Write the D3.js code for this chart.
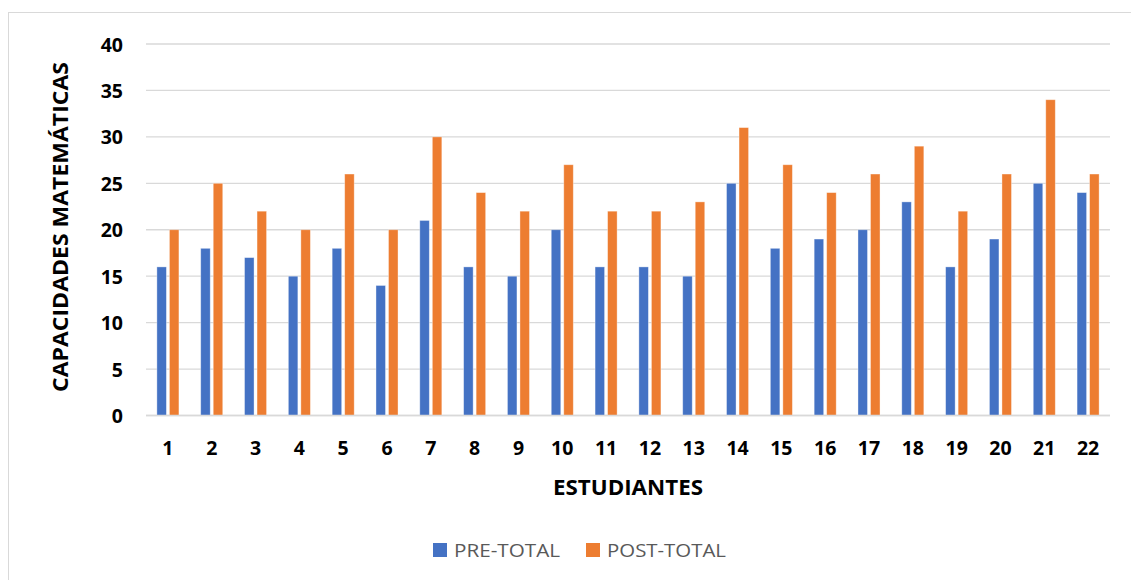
<!DOCTYPE html>
<html>
<head>
<meta charset="utf-8">
<script src="https://cdn.jsdelivr.net/npm/d3@7"></script>
<style>
  html, body { margin: 0; padding: 0; background: #fff; }
  svg { display: block; }
</style>
</head>
<body>
<svg id="chart" width="1131" height="580"></svg>
<script>
// Student identifiers and the two score series
const students = ["1","2","3","4","5","6","7","8","9","10","11","12","13","14","15","16","17","18","19","20","21","22"];
const preTotal  = [16,18,17,15,18,14,21,16,15,20,16,16,15,25,18,19,20,23,16,19,25,24];
const postTotal = [20,25,22,20,26,20,30,24,22,27,22,22,23,31,27,24,26,29,22,26,34,26];
const seriesNames = ["PRE-TOTAL", "POST-TOTAL"];
const seriesColors = ["#4472C4", "#ED7D31"];
const yTicks = [0,5,10,15,20,25,30,35,40];

const svg = d3.select("#chart");
const W = 1131, H = 580;
const font = "'Open Sans', 'Noto Sans', 'DejaVu Sans', sans-serif";

// Outer frame
svg.append("rect")
  .attr("x", 8.5).attr("y", 12.5)
  .attr("width", W + 10).attr("height", H + 10)
  .attr("fill", "#fff").attr("stroke", "#d9d9d9").attr("stroke-width", 1);

const plot = { left: 146, right: 1110, top: 44, bottom: 415.5 };

const x = d3.scaleBand().domain(students).range([plot.left, plot.right]).paddingInner(0).paddingOuter(0);
const xInner = d3.scaleBand().domain(seriesNames).range([0, x.bandwidth()]).paddingInner(0.24).paddingOuter(0.87);
const y = d3.scaleLinear().domain([0, 40]).range([plot.bottom, plot.top]);

// Horizontal gridlines
svg.append("g")
  .selectAll("line")
  .data(yTicks)
  .join("line")
  .attr("x1", plot.left).attr("x2", plot.right)
  .attr("y1", d => y(d)).attr("y2", d => y(d))
  .attr("stroke", "#d9d9d9").attr("stroke-width", 1.3);

// Y axis tick labels
const yAxis = d3.axisLeft(y).tickValues(yTicks).tickSize(0).tickPadding(0);
const gy = svg.append("g").attr("transform", `translate(123,0)`).call(yAxis);
gy.select(".domain").remove();
gy.selectAll("text")
  .attr("font-family", font).attr("font-size", 19.5).attr("font-weight", "bold")
  .attr("fill", "#000").attr("dy", "0.36em");

// Bars
const rows = students.map((s, i) => ({ s, vals: [preTotal[i], postTotal[i]] }));
const groups = svg.append("g").selectAll("g")
  .data(rows)
  .join("g")
  .attr("transform", d => `translate(${x(d.s)},0)`);

groups.selectAll("rect")
  .data(d => d.vals.map((v, k) => ({ name: seriesNames[k], v, k })))
  .join("rect")
  .attr("x", d => xInner(d.name))
  .attr("width", xInner.bandwidth())
  .attr("y", d => y(d.v))
  .attr("height", d => y(0) - y(d.v))
  .attr("fill", d => seriesColors[d.k])
  .attr("stroke", "rgba(255,255,255,0.45)")
  .attr("stroke-width", 0.8);

// Baseline
svg.append("line")
  .attr("x1", plot.left).attr("x2", plot.right)
  .attr("y1", y(0)).attr("y2", y(0))
  .attr("stroke", "#d9d9d9").attr("stroke-width", 1.3);

// X axis tick labels
const xAxis = d3.axisBottom(x).tickSize(0).tickPadding(0);
const gx = svg.append("g").attr("transform", `translate(0,455)`).call(xAxis);
gx.select(".domain").remove();
gx.selectAll("text")
  .attr("font-family", font).attr("font-size", 19.5).attr("font-weight", "bold")
  .attr("fill", "#000").attr("dy", "0");

// Axis titles
svg.append("text")
  .attr("x", 628).attr("y", 495)
  .attr("text-anchor", "middle")
  .attr("font-family", font).attr("font-size", 21).attr("font-weight", "bold")
  .attr("fill", "#000")
  .attr("textLength", 150).attr("lengthAdjust", "spacingAndGlyphs")
  .text("ESTUDIANTES");

svg.append("text")
  .attr("transform", `translate(68,227) rotate(-90)`)
  .attr("text-anchor", "middle")
  .attr("font-family", font).attr("font-size", 21).attr("font-weight", "bold")
  .attr("fill", "#000")
  .attr("textLength", 330).attr("lengthAdjust", "spacingAndGlyphs")
  .text("CAPACIDADES MATEMÁTICAS");

// Legend
const legendItems = [
  { name: seriesNames[0], color: seriesColors[0], x: 433, w: 106 },
  { name: seriesNames[1], color: seriesColors[1], x: 586, w: 119 }
];
const lg = svg.append("g").selectAll("g").data(legendItems).join("g")
  .attr("transform", d => `translate(${d.x},543)`);
lg.append("rect").attr("width", 14).attr("height", 14).attr("fill", d => d.color);
lg.append("text")
  .attr("x", 21).attr("y", 14)
  .attr("font-family", font).attr("font-size", 19)
  .attr("fill", "#595959")
  .attr("textLength", d => d.w).attr("lengthAdjust", "spacingAndGlyphs")
  .text(d => d.name);
</script>
</body>
</html>
